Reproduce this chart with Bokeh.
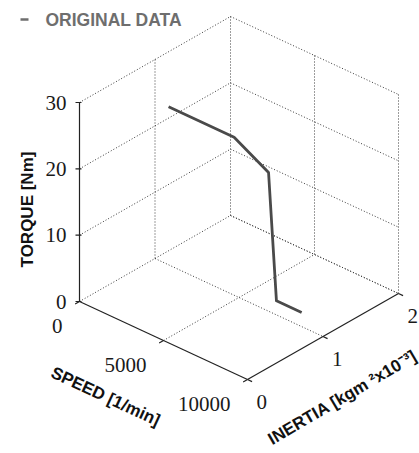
import math
from bokeh.plotting import figure
from bokeh.models import Range1d
from bokeh.core.properties import value
from bokeh.embed import file_html
from bokeh.resources import INLINE

# ---- data ----
speed = [0, 3900, 5950, 6420, 7920]          # 1/min
torque = [21.7, 21.7, 18.8, 0.0, 0.0]        # Nm
inertia = [1.18, 1.18, 1.18, 1.18, 1.18]     # kgm^2 x10^-3

speed_ticks = [0, 5000, 10000]
speed_tick_labels = ["0", "5000", "10000"]
inertia_ticks = [0, 1, 2]
inertia_tick_labels = ["0", "1", "2"]
torque_ticks = [0, 10, 20, 30]
torque_tick_labels = ["0", "10", "20", "30"]

S_MAX, I_MAX, T_MAX = 10000, 2, 30

# ---- orthographic projection (page pixel space) ----
OX, OY = 79.0, 301.0
SX, SY = 168.0 / S_MAX, 78.0 / S_MAX
IX, IY = 151.0 / I_MAX, -86.0 / I_MAX
TY = -199.0 / T_MAX


def proj(s, i, t):
    return OX + s * SX + i * IX, OY + s * SY + i * IY + t * TY


W, H = 419, 453
p = figure(width=W, height=H, output_backend="svg", toolbar_location=None,
           x_range=Range1d(0, W), y_range=Range1d(H, 0),
           min_border=0, outline_line_color=None)
p.axis.visible = False
p.grid.visible = False
p.background_fill_color = "white"
p.border_fill_color = "white"

# ---- dotted grid on back walls and floor ----
gx, gy = [], []


def seg(a, b):
    x0, y0 = proj(*a)
    x1, y1 = proj(*b)
    gx.append([x0, x1])
    gy.append([y0, y1])


for t in torque_ticks:
    seg((0, 0, t), (0, I_MAX, t))          # wall speed=0
    seg((0, I_MAX, t), (S_MAX, I_MAX, t))  # wall inertia=max
for i in inertia_ticks[1:]:
    seg((0, i, 0), (0, i, T_MAX))
    seg((0, i, 0), (S_MAX, i, 0))          # floor
for s in speed_ticks[1:]:
    seg((s, I_MAX, 0), (s, I_MAX, T_MAX))
for s in speed_ticks[1:-1]:
    seg((s, 0, 0), (s, I_MAX, 0))          # floor

p.multi_line(gx, gy, line_color="#3a3a3a", line_width=1, line_dash="1 2")

# ---- solid axes ----
ax_x, ax_y = [], []
for a, b in [((0, 0, 0), (0, 0, T_MAX)),
             ((0, 0, 0), (S_MAX, 0, 0)),
             ((S_MAX, 0, 0), (S_MAX, I_MAX, 0))]:
    x0, y0 = proj(*a)
    x1, y1 = proj(*b)
    ax_x.append([x0, x1])
    ax_y.append([y0, y1])

# ticks
nI = math.hypot(IX * I_MAX, IY * I_MAX)
nS = math.hypot(SX * S_MAX, SY * S_MAX)
TL = 5.0
for s in speed_ticks:
    x, y = proj(s, 0, 0)
    ax_x.append([x, x - TL * IX * I_MAX / nI])
    ax_y.append([y, y - TL * IY * I_MAX / nI])
for i in inertia_ticks:
    x, y = proj(S_MAX, i, 0)
    ax_x.append([x, x + TL * SX * S_MAX / nS])
    ax_y.append([y, y + TL * SY * S_MAX / nS])
for t in torque_ticks:
    x, y = proj(0, 0, t)
    ax_x.append([x - 4, x + 2])
    ax_y.append([y, y])

p.multi_line(ax_x, ax_y, line_color="#222222", line_width=1.2)

# ---- data line ----
px, py = zip(*[proj(s, i, t) for s, i, t in zip(speed, inertia, torque)])
p.line(list(px), list(py), line_color="#4a4a4a", line_width=2.8, line_join="round")

# ---- tick labels ----
serif = value("Liberation Serif")
tx, ty = zip(*[proj(0, 0, t) for t in torque_ticks])
p.text(x=list(tx), y=list(ty), text=torque_tick_labels, x_offset=-13,
       text_align="right", text_baseline="middle", text_font=serif,
       text_font_size="21px", text_color="#1a1a1a")

sx_, sy_ = zip(*[proj(s, 0, 0) for s in speed_ticks])
p.text(x=list(sx_), y=list(sy_), text=speed_tick_labels, x_offset=-17, y_offset=24,
       text_align="right", text_baseline="middle", text_font=serif,
       text_font_size="21px", text_color="#1a1a1a")

ix_, iy_ = zip(*[proj(S_MAX, i, 0) for i in inertia_ticks])
p.text(x=list(ix_), y=list(iy_), text=inertia_tick_labels, x_offset=9, y_offset=22,
       text_align="left", text_baseline="middle", text_font=serif,
       text_font_size="21px", text_color="#1a1a1a")

# ---- axis titles ----
sans = value("Liberation Sans")
p.text(x=[27], y=[209], text=["TORQUE [Nm]"], angle=math.pi / 2,
       text_align="center", text_baseline="middle", text_font=sans,
       text_font_style="bold", text_font_size="17px", text_color="#111111")
p.text(x=[105], y=[396], text=["SPEED [1/min]"], angle=-math.atan2(78, 168),
       text_align="center", text_baseline="middle", text_font=sans,
       text_font_style="bold", text_font_size="17px", text_color="#111111")
p.text(x=[342], y=[397], text=["INERTIA [kgm \u00b2x10\u207b\u00b3]"], angle=math.radians(30.5),
       text_align="center", text_baseline="middle", text_font=sans,
       text_font_style="bold", text_font_size="17px", text_color="#111111")

# ---- legend ----
p.line([20, 28], [19, 19], line_color="#6e6e6e", line_width=2.5)
p.text(x=[45], y=[19], text=["ORIGINAL DATA"], text_align="left", text_baseline="middle",
       text_font=sans, text_font_style="bold", text_font_size="17.5px", text_color="#6e6e6e")

open("out.html", "w").write(file_html(p, INLINE))
